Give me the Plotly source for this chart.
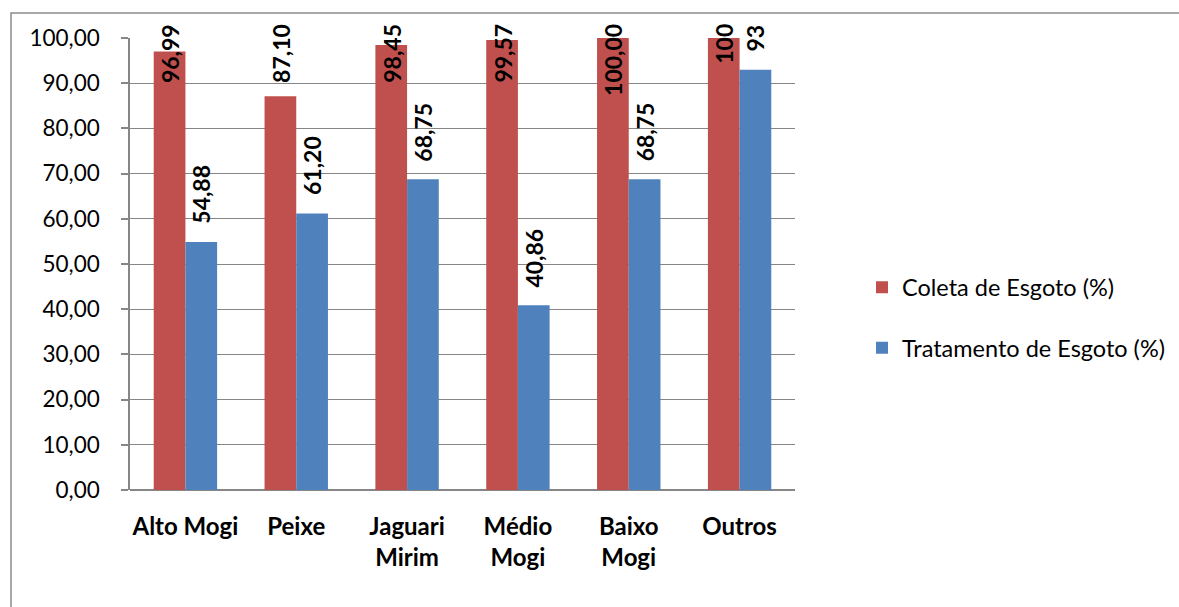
import plotly.graph_objects as go

categories = ["Alto Mogi", "Peixe", "Jaguari<br>Mirim", "Médio<br>Mogi", "Baixo<br>Mogi", "Outros"]
coleta = [96.99, 87.10, 98.45, 99.57, 100.00, 100]
tratamento = [54.88, 61.20, 68.75, 40.86, 68.75, 93]
coleta_labels = ["96,99", "87,10", "98,45", "99,57", "100,00", "100"]
tratamento_labels = ["54,88", "61,20", "68,75", "40,86", "68,75", "93"]
y_ticks = [0, 10, 20, 30, 40, 50, 60, 70, 80, 90, 100]
y_tick_text = ["0,00", "10,00", "20,00", "30,00", "40,00", "50,00", "60,00", "70,00", "80,00", "90,00", "100,00"]

RED = "#C0504D"
BLUE = "#4F81BD"
GRID = "#868686"
FONT = "Lato"

W, H = 1179, 607
ML, MR, MT, MB = 130, 384, 38, 117
plot_h = H - MT - MB
px_per_unit = plot_h / 100.0

fig = go.Figure()
fig.add_trace(go.Bar(x=categories, y=coleta, name="Coleta de Esgoto (%)",
                     marker=dict(color=RED, line=dict(width=0)), legendgroup="a"))
fig.add_trace(go.Bar(x=categories, y=tratamento, name="Tratamento de Esgoto (%)",
                     marker=dict(color=BLUE, line=dict(width=0)), legendgroup="b"))

LABEL_SIZE = 23
GAP = 16
TOP_LIMIT = 16  # px above plot top that labels may reach


def text_len(s):
    return sum(0.26 * LABEL_SIZE if ch == "," else 0.58 * LABEL_SIZE for ch in s)


annotations = []
group_w = 1 - 0.428
for si, (vals, labs) in enumerate([(coleta, coleta_labels), (tratamento, tratamento_labels)]):
    offset = (-0.25 if si == 0 else 0.25) * group_w
    for i, (v, lab) in enumerate(zip(vals, labs)):
        top_px = (100 - v) * px_per_unit - GAP - text_len(lab)
        if top_px < -TOP_LIMIT:
            ann = dict(y=100, yanchor="top", yshift=TOP_LIMIT)
        else:
            ann = dict(y=v, yanchor="bottom", yshift=GAP)
        ann.update(x=i + offset, xref="x", yref="y", text=lab, textangle=-90,
                   showarrow=False, xanchor="center",
                   font=dict(family=FONT, size=LABEL_SIZE, color="black", weight="bold"))
        annotations.append(ann)

fig.update_layout(
    width=W, height=H,
    margin=dict(l=ML, r=MR, t=MT, b=MB, pad=0, autoexpand=False),
    paper_bgcolor="white", plot_bgcolor="white",
    barmode="group", bargap=0.428, bargroupgap=0,
    font=dict(family=FONT, color="black"),
    annotations=annotations,
    legend=dict(x=(862 - ML) / (W - ML - MR), xanchor="left",
                y=(H - MB - 318) / plot_h, yanchor="middle",
                font=dict(family=FONT, size=23.5, color="black"),
                tracegroupgap=27, bgcolor="rgba(0,0,0,0)"),
    showlegend=True,
)

fig.update_xaxes(
    type="category", showgrid=False, showline=False, ticks="",
    tickfont=dict(family=FONT, size=24, color="black", weight="bold"),
    ticklabelstandoff=20,
)
fig.update_yaxes(
    range=[0, 100], tickvals=y_ticks, ticktext=y_tick_text,
    showgrid=True, gridcolor=GRID, gridwidth=1,
    showline=True, linecolor=GRID, linewidth=1.5,
    ticks="outside", ticklen=7, tickcolor=GRID, tickwidth=1.5,
    tickfont=dict(family=FONT, size=22.5, color="black"),
    ticklabelstandoff=17, zeroline=True, zerolinecolor=GRID, zerolinewidth=1.5,
)

# chart border (Excel chart area)
pw = W - ML - MR
fig.add_shape(type="rect", xref="paper", yref="paper",
              x0=(11 - ML) / pw, x1=(W + 20 - ML) / pw,
              y0=(H - MB - (H + 20)) / plot_h, y1=(H - MB - 13) / plot_h,
              line=dict(color="#8C8C8C", width=1.5), fillcolor="rgba(0,0,0,0)", layer="below")

fig.write_html("out.html")
